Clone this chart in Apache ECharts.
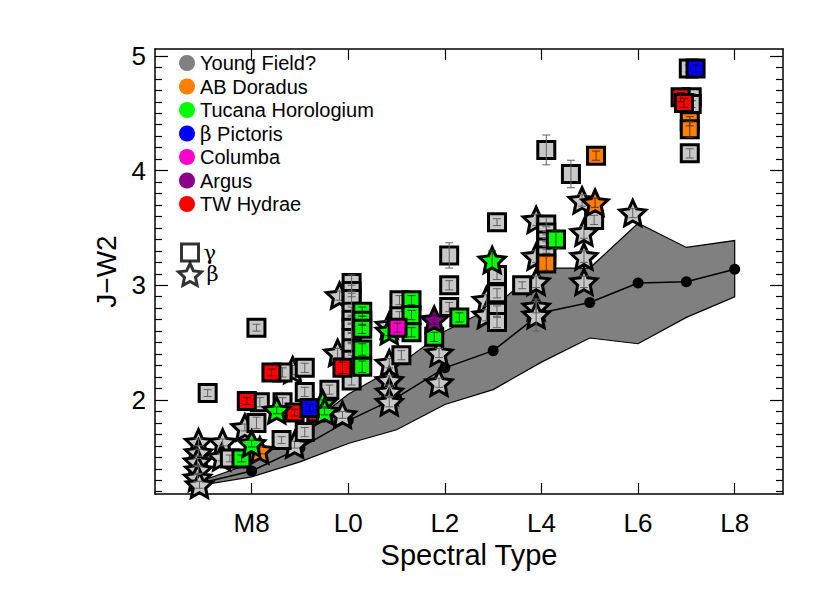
<!DOCTYPE html>
<html>
<head>
<meta charset="utf-8">
<script src="https://cdn.jsdelivr.net/npm/echarts@6/dist/echarts.min.js"></script>
<style>
  html, body { margin: 0; padding: 0; background: #fff; }
  #chart { width: 830px; height: 593px; }
</style>
</head>
<body>
<div id="chart"></div>
<script>
// spectral type as a number: M7 = 7, M8 = 8, L0 = 10 ... L8 = 18
const xTickValues = [8, 10, 12, 14, 16, 18];
const xTickLabels = ['M8', 'L0', 'L2', 'L4', 'L6', 'L8'];
const yTickValues = [2, 3, 4, 5];

// field dwarf sequence: mean and spread
const fieldSpT = [7, 8, 9, 10, 11, 12, 13, 14, 15, 16, 17, 18];
const fieldMean = [1.28, 1.38, 1.58, 1.82, 2.02, 2.28, 2.43, 2.76, 2.85, 3.02, 3.03, 3.14];
const fieldLow = [1.26, 1.33, 1.46, 1.62, 1.74, 1.96, 2.09, 2.33, 2.54, 2.49, 2.72, 2.90];
const fieldHigh = [1.30, 1.45, 1.72, 2.05, 2.29, 2.60, 2.81, 3.15, 3.15, 3.54, 3.33, 3.39];

// [spectral type, J-W2, error]
const yfGamma = [
  [7.09, 2.06, 0.03], [7.55, 1.49, 0.03], [8.10, 1.80, 0.05], [8.17, 1.98, 0.04],
  [8.10, 2.63, 0.03], [8.64, 2.24, 0.04], [9.10, 2.28, 0.04], [8.62, 1.65, 0.03],
  [8.64, 1.98, 0.04], [9.10, 1.72, 0.04], [9.10, 2.07, 0.04], [9.61, 2.09, 0.04],
  [10.07, 3.02, 0.07], [10.07, 2.95, 0.05], [10.07, 2.88, 0.05], [10.07, 2.77, 0.04],
  [10.07, 2.70, 0.04], [10.07, 2.63, 0.04], [10.07, 2.54, 0.04], [10.07, 2.45, 0.04],
  [10.07, 2.35, 0.04], [10.07, 2.17, 0.04], [11.06, 2.87, 0.04], [11.06, 2.73, 0.04],
  [11.10, 2.39, 0.04], [12.09, 3.26, 0.11], [12.09, 3.00, 0.04], [12.09, 2.81, 0.04],
  [13.08, 3.55, 0.03], [13.08, 3.09, 0.04], [13.08, 2.93, 0.04], [13.08, 2.77, 0.05],
  [13.08, 2.68, 0.05], [13.60, 3.00, 0.03], [14.10, 3.53, 0.06], [14.10, 3.46, 0.05],
  [14.10, 3.39, 0.05], [14.10, 3.33, 0.05], [14.10, 3.26, 0.05], [14.10, 4.18, 0.13],
  [14.61, 3.97, 0.12], [15.09, 3.57, 0.04], [17.05, 4.89, 0.03], [17.11, 4.64, 0.03],
  [17.11, 4.58, 0.03], [17.07, 4.15, 0.04]
];
const yfBeta = [
  [6.90, 1.63, 0.03], [6.90, 1.54, 0.03], [6.88, 1.46, 0.03], [6.90, 1.39, 0.03],
  [6.88, 1.32, 0.03], [6.92, 1.26, 0.03], [7.40, 1.63, 0.03], [7.38, 1.50, 0.03],
  [7.86, 1.76, 0.03], [8.85, 2.26, 0.04], [8.89, 1.61, 0.03], [9.88, 1.87, 0.03],
  [9.82, 2.91, 0.04], [9.78, 2.41, 0.04], [10.85, 2.65, 0.04], [10.85, 2.32, 0.04],
  [10.85, 2.17, 0.04], [10.85, 2.07, 0.04], [10.85, 1.98, 0.04], [11.88, 2.41, 0.04],
  [11.88, 2.15, 0.04], [12.86, 2.87, 0.05], [12.86, 2.74, 0.05], [13.89, 3.57, 0.05],
  [13.89, 3.25, 0.05], [13.89, 3.03, 0.05], [13.89, 2.81, 0.05], [13.89, 2.74, 0.14],
  [14.84, 3.74, 0.05], [14.88, 3.46, 0.05], [14.88, 3.25, 0.05], [14.88, 3.03, 0.05],
  [15.89, 3.63, 0.04]
];
const abdGamma = [[14.10, 3.19, 0.06], [15.13, 4.13, 0.04], [17.07, 4.43, 0.04], [17.07, 4.36, 0.07]];
const abdBeta = [[8.17, 1.56, 0.03], [15.11, 3.72, 0.04]];
const twaGamma = [
  [7.90, 1.99, 0.03], [8.41, 2.24, 0.03], [9.88, 2.28, 0.05], [8.89, 1.89, 0.03],
  [9.34, 1.89, 0.03], [16.88, 4.64, 0.04], [16.95, 4.59, 0.04]
];
const thaGamma = [
  [7.79, 1.49, 0.03], [10.29, 2.77, 0.04], [10.29, 2.69, 0.04], [10.29, 2.62, 0.04],
  [10.29, 2.44, 0.05], [10.29, 2.29, 0.05], [11.31, 2.87, 0.04], [11.31, 2.74, 0.04],
  [11.31, 2.59, 0.04], [11.78, 2.55, 0.04], [12.30, 2.72, 0.04], [14.30, 3.40, 0.08]
];
const thaBeta = [
  [8.00, 1.62, 0.03], [8.52, 1.91, 0.03], [9.47, 1.97, 0.03], [9.51, 1.90, 0.03],
  [10.85, 2.60, 0.04], [12.98, 3.22, 0.08]
];
const bpicGamma = [[9.20, 1.93, 0.03], [17.19, 4.89, 0.03]];
const colGamma = [[11.02, 2.63, 0.04]];
const argBeta = [[11.78, 2.70, 0.04]];

// five pointed star used for the beta symbols
const starPath = (function () {
  let p = [];
  for (let i = 0; i < 10; i++) {
    const r = i % 2 === 0 ? 1 : 0.48;
    const a = -Math.PI / 2 + i * Math.PI / 5;
    p.push((r * Math.cos(a)).toFixed(3) + ',' + (r * Math.sin(a)).toFixed(3));
  }
  return 'path://M' + p.join('L') + 'Z';
})();

const FONT = 'Liberation Sans, Arial, sans-serif';
let z = 3;

function marks(name, data, shape, fill) {
  const isStar = shape === 'star';
  return {
    name: name, type: 'scatter', z: z++, silent: true,
    data: data.map(d => [d[0], d[1]]),
    symbol: isStar ? starPath : 'rect',
    symbolSize: isStar ? [26, 25] : 17,
    itemStyle: { color: fill, borderColor: '#000', borderWidth: 3, opacity: 1 },
    emphasis: { disabled: true }
  };
}

function errBars(data, color) {
  return {
    type: 'custom', z: z++, silent: true, data: data,
    renderItem: function (params, api) {
      const x = api.value(0), y = api.value(1), e = api.value(2);
      const t = api.coord([x, y + e]), b = api.coord([x, y - e]);
      const w = 4;
      const st = { stroke: color, lineWidth: 1 };
      return {
        type: 'group', children: [
          { type: 'line', shape: { x1: t[0], y1: t[1], x2: b[0], y2: b[1] }, style: st },
          { type: 'line', shape: { x1: t[0] - w, y1: t[1], x2: t[0] + w, y2: t[1] }, style: st },
          { type: 'line', shape: { x1: b[0] - w, y1: b[1], x2: b[0] + w, y2: b[1] }, style: st }
        ]
      };
    }
  };
}

const groups = [
  { name: 'Young Field?', legend: '#808080' },
  { name: 'AB Doradus', legend: '#ff7f00' },
  { name: 'Tucana Horologium', legend: '#00ff00' },
  { name: 'β Pictoris', legend: '#0000ff' },
  { name: 'Columba', legend: '#ff00cc' },
  { name: 'Argus', legend: '#8b008b' },
  { name: 'TW Hydrae', legend: '#ff0000' }
];

const series = [];
// field band
series.push({
  type: 'custom', z: 1, silent: true, data: [[fieldSpT[0], fieldLow[0]]],
  renderItem: function (params, api) {
    const pts = [];
    for (let i = 0; i < fieldSpT.length; i++) pts.push(api.coord([fieldSpT[i], fieldHigh[i]]));
    for (let i = fieldSpT.length - 1; i >= 0; i--) pts.push(api.coord([fieldSpT[i], fieldLow[i]]));
    return { type: 'polygon', shape: { points: pts }, style: { fill: '#808080', stroke: '#000', lineWidth: 1.2 } };
  }
});
series.push({
  type: 'line', z: 2, silent: true,
  data: fieldSpT.map((s, i) => [s, fieldMean[i]]),
  symbol: 'circle', symbolSize: 11, showSymbol: true,
  itemStyle: { color: '#000' }, lineStyle: { color: '#000', width: 1.5 }
});

series.push(marks('Young Field?', yfBeta, 'star', '#c8c8c8'), errBars(yfBeta, '#606060'));
series.push(marks('Young Field?', yfGamma, 'rect', '#c8c8c8'), errBars(yfGamma, '#606060'));
series.push(marks('AB Doradus', abdGamma, 'rect', '#ff7f00'), errBars(abdGamma, '#603000'));
series.push(marks('AB Doradus', abdBeta, 'star', '#ff7f00'), errBars(abdBeta, '#603000'));
series.push(marks('TW Hydrae', twaGamma, 'rect', '#ff0000'), errBars(twaGamma, '#600000'));
series.push(marks('Tucana Horologium', thaGamma, 'rect', '#00ff00'), errBars(thaGamma, '#005000'));
series.push(marks('Tucana Horologium', thaBeta, 'star', '#00ff00'), errBars(thaBeta, '#005000'));
series.push(marks('β Pictoris', bpicGamma, 'rect', '#0000ff'), errBars(bpicGamma, '#000060'));
series.push(marks('Columba', colGamma, 'rect', '#ff00cc'), errBars(colGamma, '#600050'));
series.push(marks('Argus', argBeta, 'star', '#8b008b'), errBars(argBeta, '#400040'));
series.push({ name: 'γ', type: 'scatter', data: [] }, { name: 'β', type: 'scatter', data: [] });

const minorY = [];
for (let k = 12; k <= 50; k++) if (k % 10 !== 0) minorY.push(k / 10);

const boxLine = { show: true, onZero: false, lineStyle: { color: '#000', width: 1.5 } };

function yAxisDef(pos, ticks, len, withLabels) {
  return {
    type: 'value', position: pos, min: 1.18, max: 5.06,
    axisLine: withLabels !== null ? boxLine : { show: false },
    axisTick: { show: true, inside: true, length: len, customValues: ticks, lineStyle: { color: '#000', width: 1.2 } },
    axisLabel: withLabels ? { customValues: yTickValues, fontSize: 26, color: '#000', margin: 9, fontFamily: FONT } : { show: false },
    splitLine: { show: false }
  };
}

const leftY = yAxisDef('left', yTickValues, 13, true);
leftY.name = 'J−W2';
leftY.nameLocation = 'middle';
leftY.nameRotate = 90;
leftY.nameGap = 30;
leftY.nameTextStyle = { fontSize: 28, color: '#000', fontFamily: FONT };

const chart = echarts.init(document.getElementById('chart'), null, { renderer: 'svg' });
chart.setOption({
  animation: false,
  backgroundColor: '#fff',
  textStyle: { fontFamily: FONT },
  grid: { left: 155, top: 49, right: 47, bottom: 99 },
  xAxis: [
    {
      type: 'value', position: 'bottom', min: 6, max: 19,
      axisLine: boxLine,
      axisTick: { show: true, inside: true, length: 11, customValues: xTickValues, lineStyle: { color: '#000', width: 1.2 } },
      axisLabel: {
        customValues: xTickValues, fontSize: 26, color: '#000', margin: 16, fontFamily: FONT,
        formatter: v => xTickLabels[xTickValues.indexOf(v)]
      },
      splitLine: { show: false },
      name: 'Spectral Type', nameLocation: 'middle', nameGap: 44,
      nameTextStyle: { fontSize: 29, color: '#000', fontFamily: FONT }
    },
    {
      type: 'value', position: 'top', min: 6, max: 19,
      axisLine: boxLine,
      axisTick: { show: true, inside: true, length: 11, customValues: xTickValues, lineStyle: { color: '#000', width: 1.2 } },
      axisLabel: { show: false }, splitLine: { show: false }
    }
  ],
  yAxis: [
    leftY,
    yAxisDef('right', yTickValues, 13, false),
    yAxisDef('left', minorY, 7, null),
    yAxisDef('right', minorY, 7, null)
  ],
  legend: [
    {
      orient: 'vertical', left: 179, top: 53, padding: 0,
      itemWidth: 16, itemHeight: 16, itemGap: 3.5, icon: 'circle', selectedMode: false,
      textStyle: {
        fontSize: 20, color: '#000', fontFamily: FONT,
        rich: { g: { fontSize: 20, fontFamily: 'DejaVu Serif', color: '#000' } }
      },
      formatter: n => n.replace('β', '{g|β}'),
      data: groups.map(g => ({ name: g.name, itemStyle: { color: g.legend, borderWidth: 0 } }))
    },
    {
      left: 180, top: 242, padding: 0, itemWidth: 17, itemHeight: 17, selectedMode: false,
      textStyle: { fontSize: 21, color: '#000', fontFamily: 'DejaVu Serif' },
      data: [{ name: 'γ', icon: 'rect', itemStyle: { color: '#fff', borderColor: '#000', borderWidth: 3 } }]
    },
    {
      left: 177, top: 262, padding: 0, itemWidth: 23, itemHeight: 22, selectedMode: false,
      textStyle: { fontSize: 21, color: '#000', fontFamily: 'DejaVu Serif' },
      data: [{ name: 'β', icon: starPath, itemStyle: { color: '#fff', borderColor: '#000', borderWidth: 3 } }]
    }
  ],
  series: series
});
</script>
</body>
</html>
